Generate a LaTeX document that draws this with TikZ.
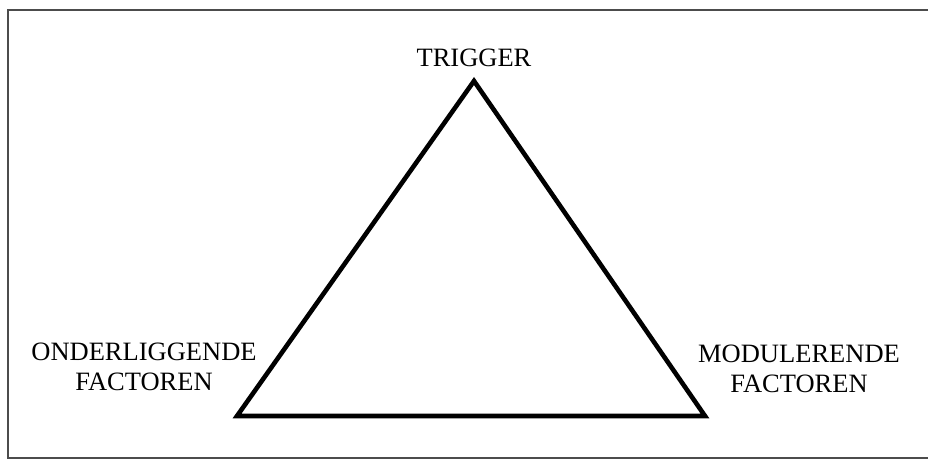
\documentclass[tikz,border=0pt]{standalone}
\usepackage{fontspec}
\setmainfont{Liberation Serif}
\usetikzlibrary{positioning}

\begin{document}
\begin{tikzpicture}[
  x=1pt, y=-1pt,
  etiquette/.style={
    font=\fontsize{26.5}{30}\selectfont,
    align=center,
    inner sep=0pt,
    text=black
  },
  cadre/.style={
    draw=black!70,
    line width=1.4pt
  },
  trait/.style={
    draw=black,
    line width=4.6pt,
    miter limit=20
  }
]
  \useasboundingbox[fill=white] (0,0) rectangle (928,462);
  % cadre ouvert a droite (coupe dans l'original)
  \draw[cadre] (928,10) -- (8,10) -- (8,458) -- (928,458);

  \coordinate (sommet) at (474,81);
  \coordinate (gauche) at (237,416);
  \coordinate (droite) at (705,416);

  \draw[trait] (sommet) -- (gauche) -- (droite) -- cycle;

  \node[etiquette, anchor=base] (trigger) at (474,67) {TRIGGER};
  \node[etiquette, anchor=south] (onder) at (144,391) {ONDERLIGGENDE\\FACTOREN};
  \node[etiquette, anchor=south] (modul) at (799,393) {MODULERENDE\\FACTOREN};
\end{tikzpicture}
\end{document}
